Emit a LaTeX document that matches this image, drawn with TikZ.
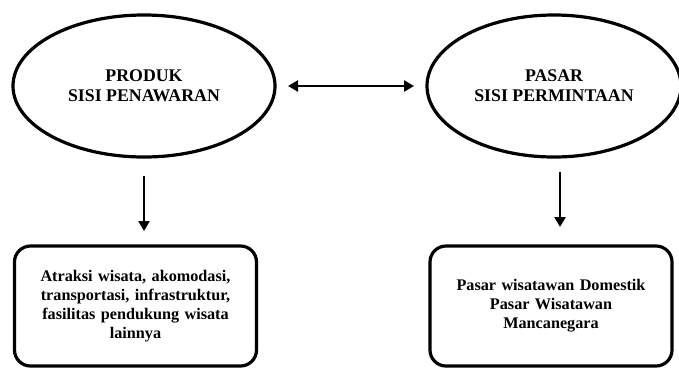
\documentclass[tikz,border=0pt]{standalone}
\usepackage{fontspec}
\setmainfont{Liberation Serif}
\usetikzlibrary{shapes.geometric, arrows.meta, positioning, calc}

\tikzset{
    side/.style={ellipse, draw, line width=3.2pt, minimum width=262pt, minimum height=142pt,
        align=center, font=\fontsize{17.8}{20}\selectfont\bfseries},
    isi/.style={draw, line width=3.2pt, rounded corners=16pt, minimum width=242pt, minimum height=120pt,
        align=center, text width=228pt, font=\fontsize{16.2}{19}\selectfont\bfseries},
    panah/.style={line width=2.8pt, -{Triangle[length=10pt,width=11pt]}}
}

\begin{document}
\begin{tikzpicture}[x=1pt, y=-1pt]
        \useasboundingbox (0,0) rectangle (679,368);
        % dua sisi
        \node[side] (produk) at (144,86) {PRODUK\\SISI PENAWARAN};
        \node[side, minimum width=254pt] (pasar) at (554,86) {PASAR\\SISI PERMINTAAN};
        \draw[panah, {Triangle[length=10pt,width=11pt]}-{Triangle[length=10pt,width=11pt]}] (288,86) -- (414,86);
        % isi
        \node[isi] (atraksi) at (135.5,306) {Atraksi wisata, akomodasi,\\transportasi, infrastruktur,\\fasilitas pendukung wisata\\lainnya};
        \node[isi] (wisatawan) at (551,306) {Pasar wisatawan Domestik\\Pasar Wisatawan\\Mancanegara};
        \draw[panah] (144,176) -- (144,231);
        \draw[panah] (560,172) -- (560,227);
    \end{tikzpicture}
\end{document}
